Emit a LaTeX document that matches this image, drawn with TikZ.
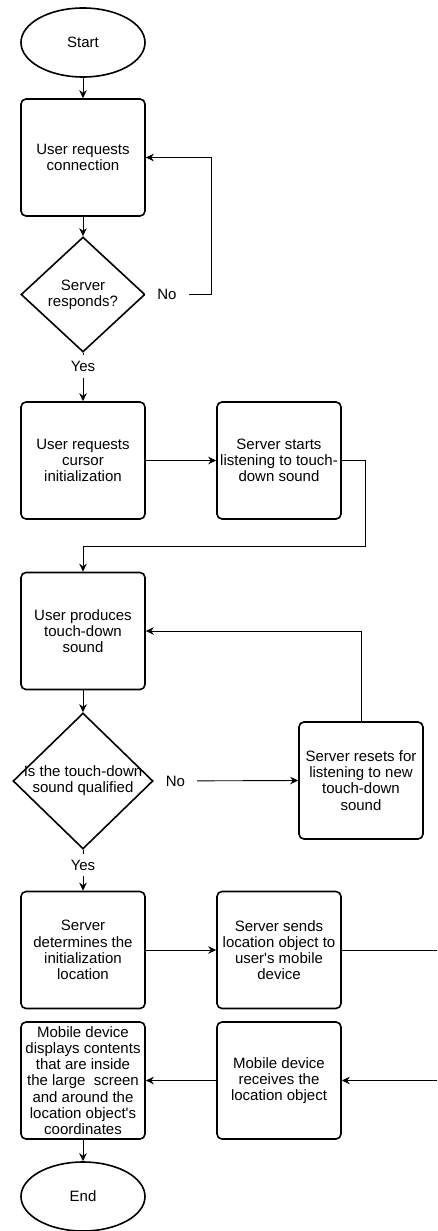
\documentclass[tikz,border=0pt]{standalone}
\usepackage{fontspec}
\setmainfont{Liberation Sans}[Ligatures=TeXOff]
\usetikzlibrary{arrows.meta,positioning,shapes.geometric,calc}
\tikzset{
  terminal/.style={draw, line width=1.6pt, ellipse, minimum width=124pt, minimum height=69pt, inner sep=0pt},
  process/.style={draw, line width=1.6pt, rounded corners=5pt, align=center, minimum width=124pt, minimum height=117pt, inner sep=0pt},
  decision/.style={draw, line width=1.6pt, diamond, inner sep=0pt},
  flow/.style={-{Stealth[length=8pt,width=7.5pt]}, line width=0.9pt},
  plain/.style={line width=0.9pt},
  lbl/.style={fill=white, inner xsep=12pt, inner ysep=6pt},
}
\begin{document}
\begin{tikzpicture}[x=1pt,y=1pt,font=\fontsize{15}{16.2}\selectfont]
  \useasboundingbox (0,0) rectangle (437,-1231);
  % left column
  \node[terminal] (start) at (83,-42.5) {Start};
  \node[process] (conn) at (83,-157.5) {User requests\\connection};
  \node[decision, minimum width=124pt, minimum height=115pt,
        label={[align=center]center:{Server\\responds?}}] (resp) at (83,-294.5) {};
  \node[process] (cursor) at (83,-460.5) {User requests\\cursor\\initialization};
  \node[process] (produce) at (83,-631) {User produces\\touch-down\\sound};
  \node[decision, minimum width=140pt, minimum height=136pt,
        label={[align=center]center:{Is the touch-down\\sound qualified}}] (qual) at (83,-781) {};
  \node[process] (locate) at (83,-950) {Server\\determines the\\initialization\\location};
  \node[process] (display) at (83,-1080.5) {Mobile device\\displays contents\\that are inside\\the large\ \ screen\\and around the\\location object's\\coordinates};
  \node[terminal] (end) at (83,-1196.5) {End};
  % right column
  \node[process] (listen) at (279,-460.5) {Server starts\\listening to touch-\\down sound};
  \node[process] (reset) at (361,-780.5) {Server resets for\\listening to new\\touch-down\\sound};
  \node[process] (send) at (279,-950) {Server sends\\location object to\\user's mobile\\device};
  \node[process] (receive) at (279,-1080.5) {Mobile device\\receives the\\location object};
  \coordinate (edgeA) at (437,-950);
  \coordinate (edgeB) at (437,-1080.5);
  % connectors
  \draw[flow] (start) -- (conn);
  \draw[flow] (conn) -- (resp);
  \draw[flow] (resp.east) -- node[lbl, pos=0.32]{No} ++(66,0) |- (conn.east);
  \draw[flow] (resp.south) -- node[lbl, pos=0.28]{Yes} (cursor.north);
  \draw[flow] (cursor) -- (listen);
  \draw[flow] (listen.east) -- ++(24,0) -- ++(0,-85.5) -| (produce.north);
  \draw[flow] (produce) -- (qual);
  \draw[flow] (qual.east) -- node[lbl, pos=0.15]{No} (reset.west);
  \draw[flow] (reset.north) |- (produce.east);
  \draw[flow] (qual.south) -- node[lbl, pos=0.37]{Yes} (locate.north);
  \draw[flow] (locate) -- (send);
  \draw[plain] (send.east) -- (edgeA);
  \draw[flow] (edgeB) -- (receive.east);
  \draw[flow] (receive) -- (display);
  \draw[flow] (display) -- (end);
\end{tikzpicture}
\end{document}
